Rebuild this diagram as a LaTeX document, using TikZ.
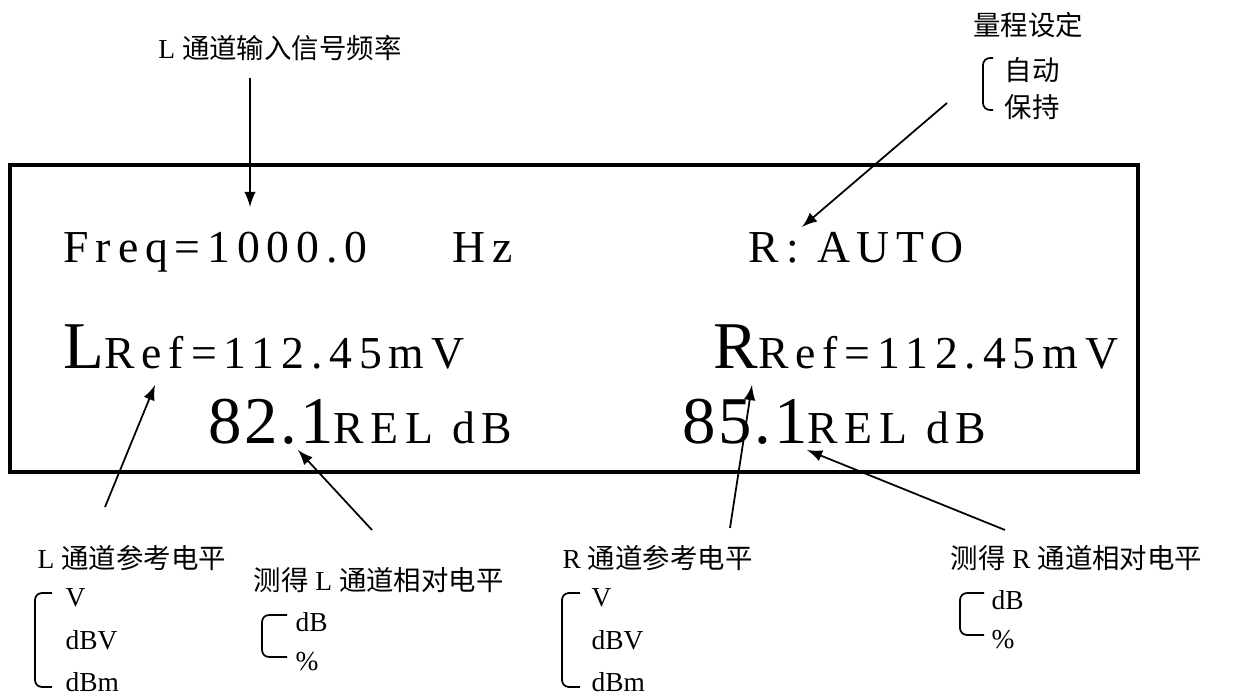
\documentclass[tikz,border=0pt]{standalone}
\usepackage{fontspec}
\setmainfont{Liberation Serif}
\newfontfamily\cjk{Noto Sans CJK SC}
\newfontfamily\lcd[LetterSpace=15]{Liberation Serif}
\newfontfamily\lcdbig[LetterSpace=4]{Liberation Serif}
\newcommand{\bigdigits}[1]{{\lcdbig\fontsize{19}{22}\selectfont #1}}
\usetikzlibrary{arrows.meta, positioning}

\begin{document}
\begin{tikzpicture}[
        x=0.01cm,
        y=-0.01cm,
        >=latex,
        note/.style={font=\fontsize{7.8}{9}\selectfont, inner sep=0pt},
        unit/.style={note, anchor=west},
        lcdtext/.style={font=\lcd\fontsize{13}{15}\selectfont, inner sep=0pt, anchor=base west},
        pointer/.style={->, line width=0.5pt},
        bracket/.style={line width=0.5pt, rounded corners=2pt}
    ]
        \useasboundingbox (0,0) rectangle (1238,694);

        % --- Points des fleches ---
        \coordinate (FreqTail) at (250, 78);
        \coordinate (FreqTip)  at (250, 207);
        \coordinate (RngTail)  at (947, 103);
        \coordinate (RngTip)   at (802, 227);
        \coordinate (LRefTip)  at (155, 385);
        \coordinate (LRefTail) at (105, 507);
        \coordinate (LValTip)  at (298, 450);
        \coordinate (LValTail) at (372, 530);
        \coordinate (RRefTip)  at (752, 385);
        \coordinate (RRefTail) at (730, 528);
        \coordinate (RValTip)  at (807, 450);
        \coordinate (RValTail) at (1005, 530);

        % --- Cadre de l'afficheur ---
        \draw[line width=1.2pt] (10, 165) rectangle (1138, 472);

        % --- Lignes affichees ---
        \node[lcdtext] (freq) at (63, 262) {Freq=1000.0};
        \node[lcdtext] (hz)   at (452, 262) {Hz};
        \node[lcdtext] (rng)  at (748, 262) {R: AUTO};

        \node[lcdtext] (lref) at (63, 368) {\bigdigits{L}Ref=112.45mV};
        \node[lcdtext] (rref) at (713, 368) {\bigdigits{R}Ref=112.45mV};

        \node[lcdtext] (lval) at (208, 443) {\bigdigits{82.1}REL dB};
        \node[lcdtext] (rval) at (682, 443) {\bigdigits{85.1}REL dB};

        % --- Legendes du haut ---
        \node[note] (freqlbl) at (280, 48) {L {\cjk 通道输入信号频率}};
        \node[note] (rnglbl)  at (1028, 25) {\cjk 量程设定};
        \node[unit] (rauto) at (1004, 70) {\cjk 自动};
        \node[unit] (rhold) at (1004, 107) {\cjk 保持};
        \draw[bracket] (993, 58) -- (983, 58) -- (983, 110) -- (993, 110);

        % --- Legendes du bas ---
        \node[note, anchor=west] (lreflbl) at (37, 558) {L {\cjk 通道参考电平}};
        \node[unit] (lv)   at (65, 598) {V};
        \node[unit] (ldbv) at (65, 640) {dBV};
        \node[unit] (ldbm) at (65, 682) {dBm};
        \draw[bracket] (52, 593) -- (35, 593) -- (35, 687) -- (52, 687);

        \node[note, anchor=west] (lvallbl) at (253, 580) {{\cjk 测得} L {\cjk 通道相对电平}};
        \node[unit] (ldb)  at (295, 622) {dB};
        \node[unit] (lpct) at (295, 662) {\%};
        \draw[bracket] (287, 615) -- (262, 615) -- (262, 657) -- (287, 657);

        \node[note, anchor=west] (rreflbl) at (562, 558) {R {\cjk 通道参考电平}};
        \node[unit] (rv)   at (591, 598) {V};
        \node[unit] (rdbv) at (591, 640) {dBV};
        \node[unit] (rdbm) at (591, 682) {dBm};
        \draw[bracket] (580, 593) -- (562, 593) -- (562, 687) -- (580, 687);

        \node[note, anchor=west] (rvallbl) at (950, 558) {{\cjk 测得} R {\cjk 通道相对电平}};
        \node[unit] (rdb)  at (991, 600) {dB};
        \node[unit] (rpct) at (991, 640) {\%};
        \draw[bracket] (984, 593) -- (960, 593) -- (960, 635) -- (984, 635);

        % --- Fleches ---
        \draw[pointer] (FreqTail) -- (FreqTip);
        \draw[pointer] (RngTail) -- (RngTip);
        \draw[pointer] (LRefTail) -- (LRefTip);
        \draw[pointer] (LValTail) -- (LValTip);
        \draw[pointer] (RRefTail) -- (RRefTip);
        \draw[pointer] (RValTail) -- (RValTip);

    \end{tikzpicture}
\end{document}
